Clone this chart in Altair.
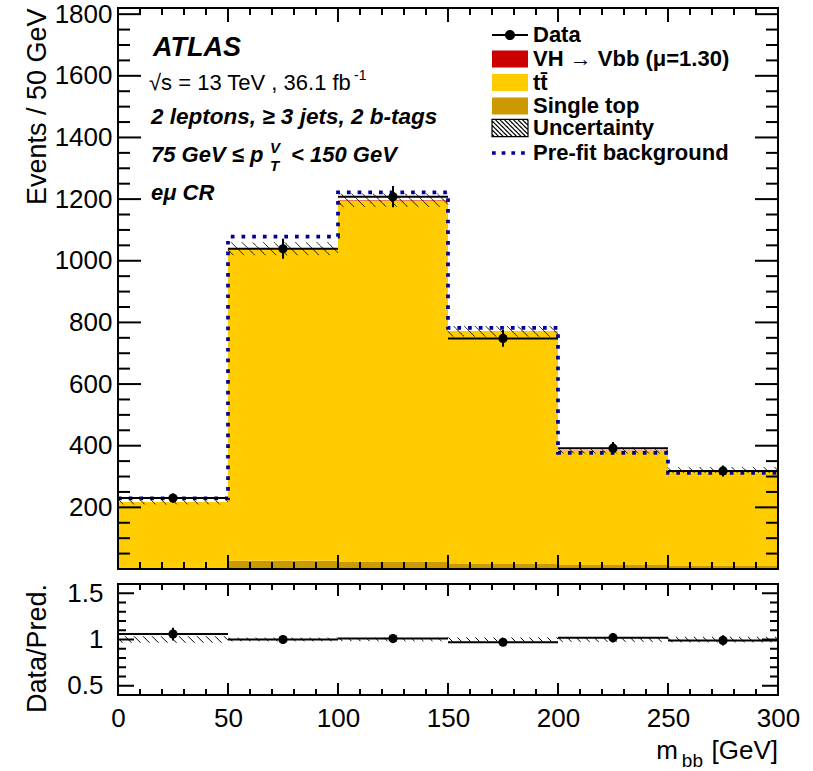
import math
import altair as alt
import pandas as pd

# ---------------- values ----------------
bin_edges = [0, 50, 100, 150, 200, 250, 300]
data_counts = [230, 1039, 1208, 748, 392, 318]
ttbar = [212, 1011, 1171, 754, 371, 310]
single_top = [5, 27, 24, 16, 13, 11]
vh_signal = [0.3, 1.0, 1.5, 0.8, 0.4, 0.2]
prefit_bkg = [229, 1078, 1222, 782, 377, 312]
rel_unc = [0.035, 0.020, 0.018, 0.022, 0.025, 0.030]

x_major = [0, 50, 100, 150, 200, 250, 300]
x_minor = [v for v in range(0, 301, 10) if v % 50]
main_y_labels = [200, 400, 600, 800, 1000, 1200, 1400, 1600, 1800]
main_y_major = [0] + main_y_labels
main_y_minor = [v for v in range(50, 1820, 50) if v % 200]
ratio_y_labels = [0.5, 1.0, 1.5]
ratio_y_minor = [0.6, 0.7, 0.8, 0.9, 1.1, 1.2, 1.3, 1.4]

LAB_DATA = "Data"
LAB_VH = "VH \u2192 Vbb (\u03bc=1.30)"
LAB_TT = "tt\u0304"
LAB_ST = "Single top"
LAB_UNC = "Uncertainty"
LAB_PRE = "Pre-fit background"

C_VH = "#cc0000"
C_TT = "#ffcc00"
C_ST = "#cc9900"
C_PRE = "#000099"

# ---------------- layout ----------------
W, HM, HR = 660, 561, 111
YMAX = 1820
RMIN, RMAX = 0.4, 1.6
FONT = "Liberation Sans"
AXFS = 26

xs = alt.Scale(domain=[0, 300], nice=False, zero=False)
ym = alt.Scale(domain=[0, YMAX], nice=False, zero=False)
yr = alt.Scale(domain=[RMIN, RMAX], nice=False, zero=False)

# every layer of a panel carries the same axis definition so that they merge
AX_Y_MAIN = alt.Axis(values=main_y_labels, format="d", title="Events / 50 GeV",
                     titleX=-73, titleY=0, titleAngle=270, titleAlign="right",
                     titleBaseline="alphabetic", labelPadding=6)
AX_X_MAIN = None
AX_X_RATIO = alt.Axis(values=x_major, format="d", title=None, labelPadding=10,
                      labelFlush=False, labelOverlap=False)
AX_Y_RATIO = alt.Axis(values=ratio_y_labels, format="~g", title="Data/Pred.",
                      titleX=-73, titleY=64, titleAngle=270, titleAlign="center",
                      titleBaseline="alphabetic", labelPadding=15)

nb = len(data_counts)
lo_e = bin_edges[:-1]
hi_e = bin_edges[1:]
centers = [(a + b) / 2 for a, b in zip(lo_e, hi_e)]
mc_total = [single_top[i] + ttbar[i] + vh_signal[i] for i in range(nb)]

# stacked histogram table
stack_rows = []
for i in range(nb):
    base = 0.0
    for lab, vals in [(LAB_ST, single_top), (LAB_TT, ttbar), (LAB_VH, vh_signal)]:
        stack_rows.append(dict(proc=lab, x=lo_e[i], x2=hi_e[i], y=base, y2=base + vals[i]))
        base += vals[i]
stack_df = pd.DataFrame(stack_rows)


def hatch_segments(lo_vals, hi_vals, py, px, spacing_px):
    rows = []
    for i in range(nb):
        xl, xh = lo_e[i], hi_e[i]
        lo, hi = lo_vals[i], hi_vals[i]
        w = (hi - lo) * py / px
        step = spacing_px / px
        s = xl - w + step * 0.5
        while s < xh:
            t0 = max(0.0, (xl - s) / w)
            t1 = min(1.0, (xh - s) / w)
            if t1 > t0:
                rows.append(dict(x=s + t0 * w, y=hi - t0 * (hi - lo),
                                 x2=s + t1 * w, y2=hi - t1 * (hi - lo), lab=LAB_UNC))
            s += step
    return pd.DataFrame(rows)


main_hatch = hatch_segments([m * (1 - u) for m, u in zip(mc_total, rel_unc)],
                            [m * (1 + u) for m, u in zip(mc_total, rel_unc)],
                            HM / YMAX, W / 300, 10.7)
ratio_hatch = hatch_segments([1 - u for u in rel_unc], [1 + u for u in rel_unc],
                             HR / (RMAX - RMIN), W / 300, 9.0)

prefit_df = pd.DataFrame({"x": bin_edges, "y": prefit_bkg + [prefit_bkg[-1]], "lab": LAB_PRE})

data_df = pd.DataFrame({
    "x": lo_e, "x2": hi_e, "xc": centers, "y": data_counts,
    "ylo": [d - math.sqrt(d) for d in data_counts],
    "yhi": [d + math.sqrt(d) for d in data_counts],
    "lab": LAB_DATA,
})
ratio_vals = [d / m for d, m in zip(data_counts, mc_total)]
ratio_err = [math.sqrt(d) / m for d, m in zip(data_counts, mc_total)]
ratio_df = pd.DataFrame({
    "x": lo_e, "x2": hi_e, "xc": centers, "y": ratio_vals,
    "ylo": [r - e for r, e in zip(ratio_vals, ratio_err)],
    "yhi": [r + e for r, e in zip(ratio_vals, ratio_err)],
})

# ---------------- legend symbols ----------------
DATA_PATH = ("M-2,-0.12H2V0.12H-2Z"
             "M0.56,0A0.56,0.56,0,1,1,-0.56,0A0.56,0.56,0,1,1,0.56,0Z")
RECT_PATH = "M-2,-0.95H2V0.95H-2Z"
LINE_PATH = "M-2,0H2"


def legend_hatch_path():
    parts = [RECT_PATH]
    top, bot, x0, x1 = -0.95, 0.95, -2.0, 2.0
    w = bot - top
    s = x0 - w + 0.25
    while s < x1:
        t0 = max(0.0, (x0 - s) / w)
        t1 = min(1.0, (x1 - s) / w)
        if t1 > t0:
            parts.append("M%.3f,%.3fL%.3f,%.3f" % (s + t0 * w, top + t0 * w, s + t1 * w, top + t1 * w))
        s += 0.5
    return "".join(parts)


HATCH_PATH = legend_hatch_path()

leg_common = dict(orient="none", title=None, padding=0, labelFont=FONT, labelFontSize=22,
                  labelFontWeight="bold", labelColor="black", labelLimit=600,
                  symbolSize=324, labelOffset=12, rowPadding=1.5)
LEG_X = 381

leg_data = alt.Legend(legendX=LEG_X, legendY=16, symbolType=DATA_PATH,
                      symbolFillColor="black", symbolStrokeColor="black",
                      symbolStrokeWidth=0.5, **leg_common)
leg_stack = alt.Legend(legendX=LEG_X, legendY=40, symbolType=RECT_PATH,
                       symbolStrokeWidth=0, **leg_common)
leg_unc = alt.Legend(legendX=LEG_X, legendY=109, symbolType=HATCH_PATH,
                     symbolStrokeColor="black", symbolFillColor="transparent",
                     symbolStrokeWidth=1.2, **leg_common)
leg_pre = alt.Legend(legendX=LEG_X, legendY=134, symbolType=LINE_PATH,
                     symbolStrokeWidth=3.7, symbolDash=[3.7, 6], **leg_common)

# ---------------- helpers ----------------
one_row = pd.DataFrame({"k": [0]})


def text_layer(s, x, y, size, weight="normal", style="normal", align="left"):
    return alt.Chart(pd.DataFrame({"t": [s]})).mark_text(
        font=FONT, fontSize=size, fontWeight=weight, fontStyle=style, align=align,
        baseline="alphabetic", color="black"
    ).encode(text="t:N", x=alt.value(x), y=alt.value(y))


def frame(h):
    r = alt.Chart(one_row).mark_rule(color="black", strokeWidth=2)
    return [
        r.encode(x=alt.value(0), x2=alt.value(W), y=alt.value(0)),
        r.encode(x=alt.value(0), x2=alt.value(W), y=alt.value(h)),
        r.encode(y=alt.value(0), y2=alt.value(h), x=alt.value(0)),
        r.encode(y=alt.value(0), y2=alt.value(h), x=alt.value(W)),
    ]


def x_ticks(vals, h, length, xaxis):
    d = pd.DataFrame({"v": vals})
    bottom = alt.Chart(d).mark_rule(color="black", strokeWidth=2).encode(
        x=alt.X("v:Q", scale=xs, axis=xaxis), y=alt.value(h), y2=alt.value(h - length))
    top = alt.Chart(d).mark_rule(color="black", strokeWidth=2).encode(
        x=alt.X("v:Q", scale=xs, axis=xaxis), y=alt.value(0), y2=alt.value(length))
    return [bottom, top]


def y_ticks(vals, yscale, length, yaxis):
    d = pd.DataFrame({"v": vals})
    left = alt.Chart(d).mark_rule(color="black", strokeWidth=2).encode(
        y=alt.Y("v:Q", scale=yscale, axis=yaxis), x=alt.value(0), x2=alt.value(length))
    right = alt.Chart(d).mark_rule(color="black", strokeWidth=2).encode(
        y=alt.Y("v:Q", scale=yscale, axis=yaxis), x=alt.value(W), x2=alt.value(W - length))
    return [left, right]


# ---------------- main panel ----------------
stack = alt.Chart(stack_df).mark_rect().encode(
    x=alt.X("x:Q", scale=xs, axis=AX_X_MAIN), x2="x2:Q",
    y=alt.Y("y:Q", scale=ym, axis=AX_Y_MAIN), y2="y2:Q",
    fill=alt.Fill("proc:N", scale=alt.Scale(domain=[LAB_VH, LAB_TT, LAB_ST],
                                            range=[C_VH, C_TT, C_ST]), legend=leg_stack),
)

hatch_main = alt.Chart(main_hatch).mark_rule(color="black", strokeWidth=1).encode(
    x=alt.X("x:Q", scale=xs, axis=AX_X_MAIN), x2="x2:Q",
    y=alt.Y("y:Q", scale=ym, axis=AX_Y_MAIN), y2="y2:Q",
    strokeDash=alt.StrokeDash("lab:N", scale=alt.Scale(domain=[LAB_UNC], range=[[1, 0]]),
                              legend=leg_unc),
)

prefit = alt.Chart(prefit_df).mark_line(strokeWidth=3.7, interpolate="step-after",
                                        strokeCap="butt", strokeDash=[3.7, 7]).encode(
    x=alt.X("x:Q", scale=xs, axis=AX_X_MAIN),
    y=alt.Y("y:Q", scale=ym, axis=AX_Y_MAIN),
    color=alt.Color("lab:N", scale=alt.Scale(domain=[LAB_PRE], range=[C_PRE]), legend=leg_pre),
)

data_xerr = alt.Chart(data_df).mark_rule(color="black", strokeWidth=2).encode(
    x=alt.X("x:Q", scale=xs, axis=AX_X_MAIN), x2="x2:Q",
    y=alt.Y("y:Q", scale=ym, axis=AX_Y_MAIN))
data_yerr = alt.Chart(data_df).mark_rule(color="black", strokeWidth=2).encode(
    x=alt.X("xc:Q", scale=xs, axis=AX_X_MAIN),
    y=alt.Y("ylo:Q", scale=ym, axis=AX_Y_MAIN), y2="yhi:Q")
data_pts = alt.Chart(data_df).mark_point(filled=True, size=85, color="black").encode(
    x=alt.X("xc:Q", scale=xs, axis=AX_X_MAIN), y=alt.Y("y:Q", scale=ym, axis=AX_Y_MAIN),
    opacity=alt.Opacity("lab:N", scale=alt.Scale(domain=[LAB_DATA], range=[1, 1]), legend=leg_data),
)

main_layers = [stack, hatch_main, prefit, data_xerr, data_yerr, data_pts]
main_layers += x_ticks(x_major, HM, 14, AX_X_MAIN) + x_ticks(x_minor, HM, 7, AX_X_MAIN)
main_layers += y_ticks(main_y_major, ym, 23, AX_Y_MAIN) + y_ticks(main_y_minor, ym, 12, AX_Y_MAIN)
main_layers += frame(HM)
main_layers += [
    text_layer("ATLAS", 35, 48, 27, "bold", "italic"),
    text_layer("\u221as = 13 TeV , 36.1 fb", 31, 82, 22),
    text_layer("-1", 236, 72, 14),
    text_layer("2 leptons, \u2265 3 jets, 2 b-tags", 33, 116, 22.5, "bold", "italic"),
    text_layer("75 GeV  \u2264 p", 33, 154, 22, "bold", "italic"),
    text_layer("V", 152, 145, 15, "bold", "italic"),
    text_layer("T", 152, 163, 15, "bold", "italic"),
    text_layer("< 150 GeV", 173, 154, 22, "bold", "italic"),
    text_layer("e\u03bc  CR", 33, 192, 22, "bold", "italic"),
]
main = alt.layer(*main_layers).properties(width=W, height=HM)

# ---------------- ratio panel ----------------
hatch_ratio = alt.Chart(ratio_hatch).mark_rule(color="black", strokeWidth=1).encode(
    x=alt.X("x:Q", scale=xs, axis=AX_X_RATIO), x2="x2:Q",
    y=alt.Y("y:Q", scale=yr, axis=AX_Y_RATIO), y2="y2:Q",
)
ratio_xerr = alt.Chart(ratio_df).mark_rule(color="black", strokeWidth=2).encode(
    x=alt.X("x:Q", scale=xs, axis=AX_X_RATIO), x2="x2:Q",
    y=alt.Y("y:Q", scale=yr, axis=AX_Y_RATIO))
ratio_yerr = alt.Chart(ratio_df).mark_rule(color="black", strokeWidth=2).encode(
    x=alt.X("xc:Q", scale=xs, axis=AX_X_RATIO),
    y=alt.Y("ylo:Q", scale=yr, axis=AX_Y_RATIO), y2="yhi:Q")
ratio_pts = alt.Chart(ratio_df).mark_point(filled=True, size=85, color="black", opacity=1).encode(
    x=alt.X("xc:Q", scale=xs, axis=AX_X_RATIO), y=alt.Y("y:Q", scale=yr, axis=AX_Y_RATIO))

ratio_layers = [hatch_ratio, ratio_xerr, ratio_yerr, ratio_pts]
ratio_layers += x_ticks(x_major, HR, 12, AX_X_RATIO) + x_ticks(x_minor, HR, 6, AX_X_RATIO)
ratio_layers += y_ticks(ratio_y_labels, yr, 16, AX_Y_RATIO) + y_ticks(ratio_y_minor, yr, 8, AX_Y_RATIO)
ratio_layers += frame(HR)
ratio_layers += [
    text_layer("[GeV]", 660, 175, AXFS, align="right"),
    text_layer("bb", 585, 183, 19, align="right"),
    text_layer("m", 560, 175, AXFS, align="right"),
]
ratio = alt.layer(*ratio_layers).properties(width=W, height=HR)

chart = alt.vconcat(main, ratio, spacing=8).properties(
    padding={"left": 22, "top": 0, "right": 5, "bottom": 0},
    background="white",
).configure_view(stroke="black", strokeWidth=2).configure_axis(
    labelFont=FONT, titleFont=FONT, labelFontSize=AXFS, titleFontSize=27,
    titleFontWeight="normal", labelColor="black", titleColor="black",
    grid=False, domain=False, ticks=False,
)

chart.save("out.html", embed_options={"renderer": "svg", "actions": False})
